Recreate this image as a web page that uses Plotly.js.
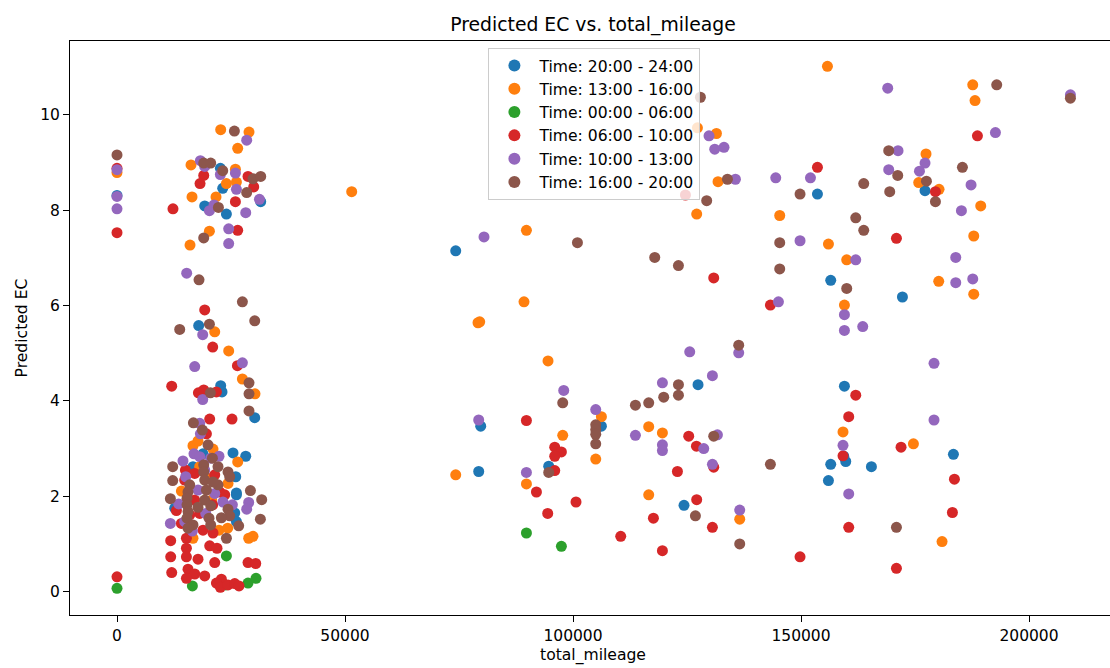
<!DOCTYPE html>
<html><head><meta charset="utf-8">
<script src="https://cdn.plot.ly/plotly-3.0.1.min.js"></script>
<style>html,body{margin:0;padding:0;background:#fff;overflow:hidden;width:1110px;height:668px}</style></head>
<body><div id="chart" style="width:1118px;height:668px"></div>
<script>
const names = ["Time: 20:00 - 24:00","Time: 13:00 - 16:00","Time: 00:00 - 06:00","Time: 06:00 - 10:00","Time: 10:00 - 13:00","Time: 16:00 - 20:00"];
const colors = ["#1f77b4","#ff7f0e","#2ca02c","#d62728","#9467bd","#8c564b"];

const blueX = [79650,106080,127240,79210,94540,124170,74180,153390,176950,156300,172000,159300,159590,159150,156300,165210,183170,155800,0,22640,23150,19210,23960,31470,17890,22710,23000,30160,25400,28190,26000,26150,26150,25780,26150,18830,12640,16640];
const blueY = [3.47,3.47,4.34,2.52,2.63,1.81,7.15,8.34,8.41,6.53,6.18,4.31,2.73,2.84,2.67,2.62,2.88,2.33,8.31,8.88,8.46,8.09,7.92,8.18,5.58,4.32,4.19,3.65,2.91,2.84,2.41,2.07,2.03,1.65,1.47,2.89,1.75,2.62];

const orangeX = [89130,79430,79060,94390,106080,97610,116440,119440,104840,74180,89660,116440,136370,89660,127110,131270,131620,126950,145130,155580,187400,187900,177170,175570,180020,189150,187620,155800,159800,179950,187620,159300,158990,174410,180680,0,22710,28910,26430,16210,25930,23960,26150,16430,21680,20240,15990,51400,21400,24460,27460,30220,16640,17740,21020,26430,24310,14100,22340,24240,16640,28840,29780,18110,19860,20740];
const orangeY = [6.08,5.66,5.64,4.84,3.67,3.28,3.46,3.33,2.78,2.45,2.26,2.03,1.52,7.58,9.73,9.61,8.60,7.92,7.89,11.02,10.63,10.30,9.18,8.58,8.44,8.09,7.46,7.29,6.96,6.51,6.24,6.01,3.35,3.10,1.05,8.79,9.69,9.64,9.30,8.95,8.86,8.56,8.59,8.28,8.28,7.56,7.27,8.39,5.45,5.05,4.46,4.15,3.06,3.16,2.99,2.72,2.27,2.11,1.29,1.33,1.12,1.12,1.16,2.62,2.38,1.92];

const greenX = [89660,97320,23960,0,16510,28690,30440,23810];
const greenY = [1.23,0.95,0.75,0.07,0.12,0.18,0.28,0.14];

const redX = [143090,89660,95860,97320,95860,95860,125200,126890,130680,122730,91850,100520,94320,126950,117470,130390,110310,119440,124480,130680,188430,153390,179230,170690,161780,160240,158990,171700,183390,182950,160240,149580,170690,0,0,18990,18180,28690,29940,25930,12260,26430,19210,20960,26370,11980,17830,18990,21770,20300,25190,19580,14980,17020,13010,14100,18110,22490,18830,21020,11760,15200,20300,21900,15200,11760,15200,17740,21400,28690,30380,11980,15550,17020,15200,19210,22860,21770,22640,24310,25780,26720,0,14820,17020,21400,23590,15920,20960];
const redY = [6.01,3.59,3.03,2.93,2.84,2.54,3.26,3.05,2.61,2.52,2.09,1.88,1.64,1.93,1.54,1.35,1.16,0.86,8.32,6.58,9.56,8.90,8.39,7.41,4.12,3.67,2.85,3.03,2.36,1.66,1.35,0.73,0.49,8.88,7.53,8.73,8.56,8.71,8.49,8.18,8.03,7.58,5.91,5.13,4.74,4.31,4.17,4.23,4.19,3.62,3.62,3.31,2.55,2.48,1.70,1.43,1.64,2.09,1.29,1.23,1.07,1.12,0.96,0.91,0.91,0.73,0.73,0.68,0.61,0.61,0.59,0.40,0.47,0.37,0.28,0.33,0.26,0.18,0.09,0.14,0.17,0.12,0.31,2.34,1.92,2.45,2.03,1.61,1.82];

const purpleX = [79210,97830,125420,136150,130390,119440,104840,113530,119440,119440,131490,128490,130390,89660,136370,80370,129650,130900,132930,135430,144260,168780,208790,192370,171040,176950,175730,169000,187030,151860,184920,149580,161780,183680,183680,187400,144850,159300,159300,163310,178920,178920,158990,160240,0,0,0,28400,18260,19210,22640,25930,26150,31190,21240,20240,28190,24460,24460,15260,18770,27460,17020,18770,18110,18260,14450,16860,18110,22340,15040,13510,11690,28840,28400,23210,25270,21400,17740,19430,16510,14830,20520,19210];
const purpleY = [3.60,4.22,5.03,5.01,4.53,4.38,3.82,3.28,3.08,2.96,3.29,3.00,2.67,2.50,1.71,7.44,9.56,9.28,9.32,8.65,8.68,10.56,10.42,9.63,9.25,8.99,8.82,8.85,8.53,8.68,7.99,7.36,6.96,7.01,6.48,6.56,6.08,5.81,5.48,5.56,4.79,3.60,3.07,2.05,8.85,8.29,8.03,9.47,9.04,8.92,8.75,8.78,8.44,8.23,8.11,7.99,7.95,7.61,7.30,6.68,5.39,4.80,4.72,4.03,3.53,3.31,2.74,2.89,2.83,2.84,2.41,1.84,1.43,1.87,1.73,1.88,1.82,2.06,2.13,1.64,1.27,1.47,2.80,2.55];

const brownX = [97610,136150,122950,122950,119730,116440,113530,104840,104840,104840,104840,130680,143090,94540,126670,136370,100830,127760,133680,129140,117760,122950,145130,145130,192650,208790,169000,170970,185140,177260,163530,169220,179230,149580,161780,163530,159800,170690,0,25710,18990,20520,23150,29780,31470,28400,22210,18990,17960,27460,30160,13730,20240,28910,28910,28910,20450,16730,18700,19930,12200,12200,11690,29220,31690,31400,23960,26650,18990,20890,22120,24310,24680,18990,19210,19580,22120,21020,15920,15550,15330,15330,15550,15330,16640,15550,19210,20520,17740,24310,24680,22860,20150,20520];
const brownY = [3.96,5.17,4.34,4.12,4.08,3.96,3.91,3.50,3.40,3.30,3.10,3.26,2.67,2.50,1.59,1.00,7.32,10.37,8.65,8.20,7.01,6.84,7.32,6.77,10.63,10.35,9.25,8.73,8.90,8.61,8.56,8.39,8.18,8.34,7.84,7.58,6.36,1.35,9.16,9.66,8.99,8.99,8.83,8.66,8.71,8.37,8.06,7.42,6.54,6.08,5.68,5.50,5.61,4.38,4.15,3.79,4.17,3.54,3.39,3.08,2.62,2.33,1.95,2.12,1.93,1.52,1.12,1.38,2.66,2.80,2.62,2.51,2.41,2.51,2.34,2.13,2.24,2.30,2.24,2.09,1.96,1.82,1.68,1.54,1.40,1.33,1.92,1.80,1.77,1.73,1.59,1.55,1.54,1.40];

// The x values above were read with a slightly coarse ruler; this corrects them to the axis ticks as measured.
const xReadingCorrection = 1.0014;
const xs = [blueX,orangeX,greenX,redX,purpleX,brownX];
const ys = [blueY,orangeY,greenY,redY,purpleY,brownY];
const font = "'DejaVu Sans', sans-serif";
const traces = names.map((n,i)=>({type:'scatter',mode:'markers',name:n,x:xs[i].map(v=>v*xReadingCorrection),y:ys[i],
  marker:{color:colors[i],size:11,line:{width:0}}}));
const layout = {
  width:1118,height:668,paper_bgcolor:'#fff',plot_bgcolor:'#fff',
  margin:{l:70,r:2,t:41,b:53,pad:0},
  font:{family:font,size:15.5,color:'#000'},
  title:{text:'Predicted EC vs. total_mileage',font:{family:font,size:18.8,color:'#000'},x:0.5,xref:'paper',xanchor:'center',y:1,yref:'paper',yanchor:'bottom',pad:{b:10}},
  xaxis:{title:{text:'total_mileage',font:{size:15.6},standoff:5},range:[-10307,219079],tickvals:[0,50000,100000,150000,200000],ticktext:['0','50000','100000','150000','200000'],
    showgrid:false,zeroline:false,showline:true,mirror:true,linecolor:'#000',linewidth:1,ticks:'outside',ticklen:6,tickwidth:1,tickcolor:'#000',automargin:false},
  yaxis:{title:{text:'Predicted EC',font:{size:15.6},standoff:8},range:[-0.49,11.55],tickvals:[0,2,4,6,8,10],
    showgrid:false,zeroline:false,showline:true,mirror:true,linecolor:'#000',linewidth:1,ticks:'outside',ticklen:6,tickwidth:1,tickcolor:'#000',automargin:false},
  legend:{x:0.4,y:0.988,xanchor:'left',yanchor:'top',bgcolor:'rgba(255,255,255,0.8)',bordercolor:'#ccc',borderwidth:1,font:{size:15.6},itemsizing:'constant',itemwidth:40,traceorder:'normal'},
  showlegend:true
};
Plotly.newPlot('chart',traces,layout,{displayModeBar:false});
</script></body></html>
